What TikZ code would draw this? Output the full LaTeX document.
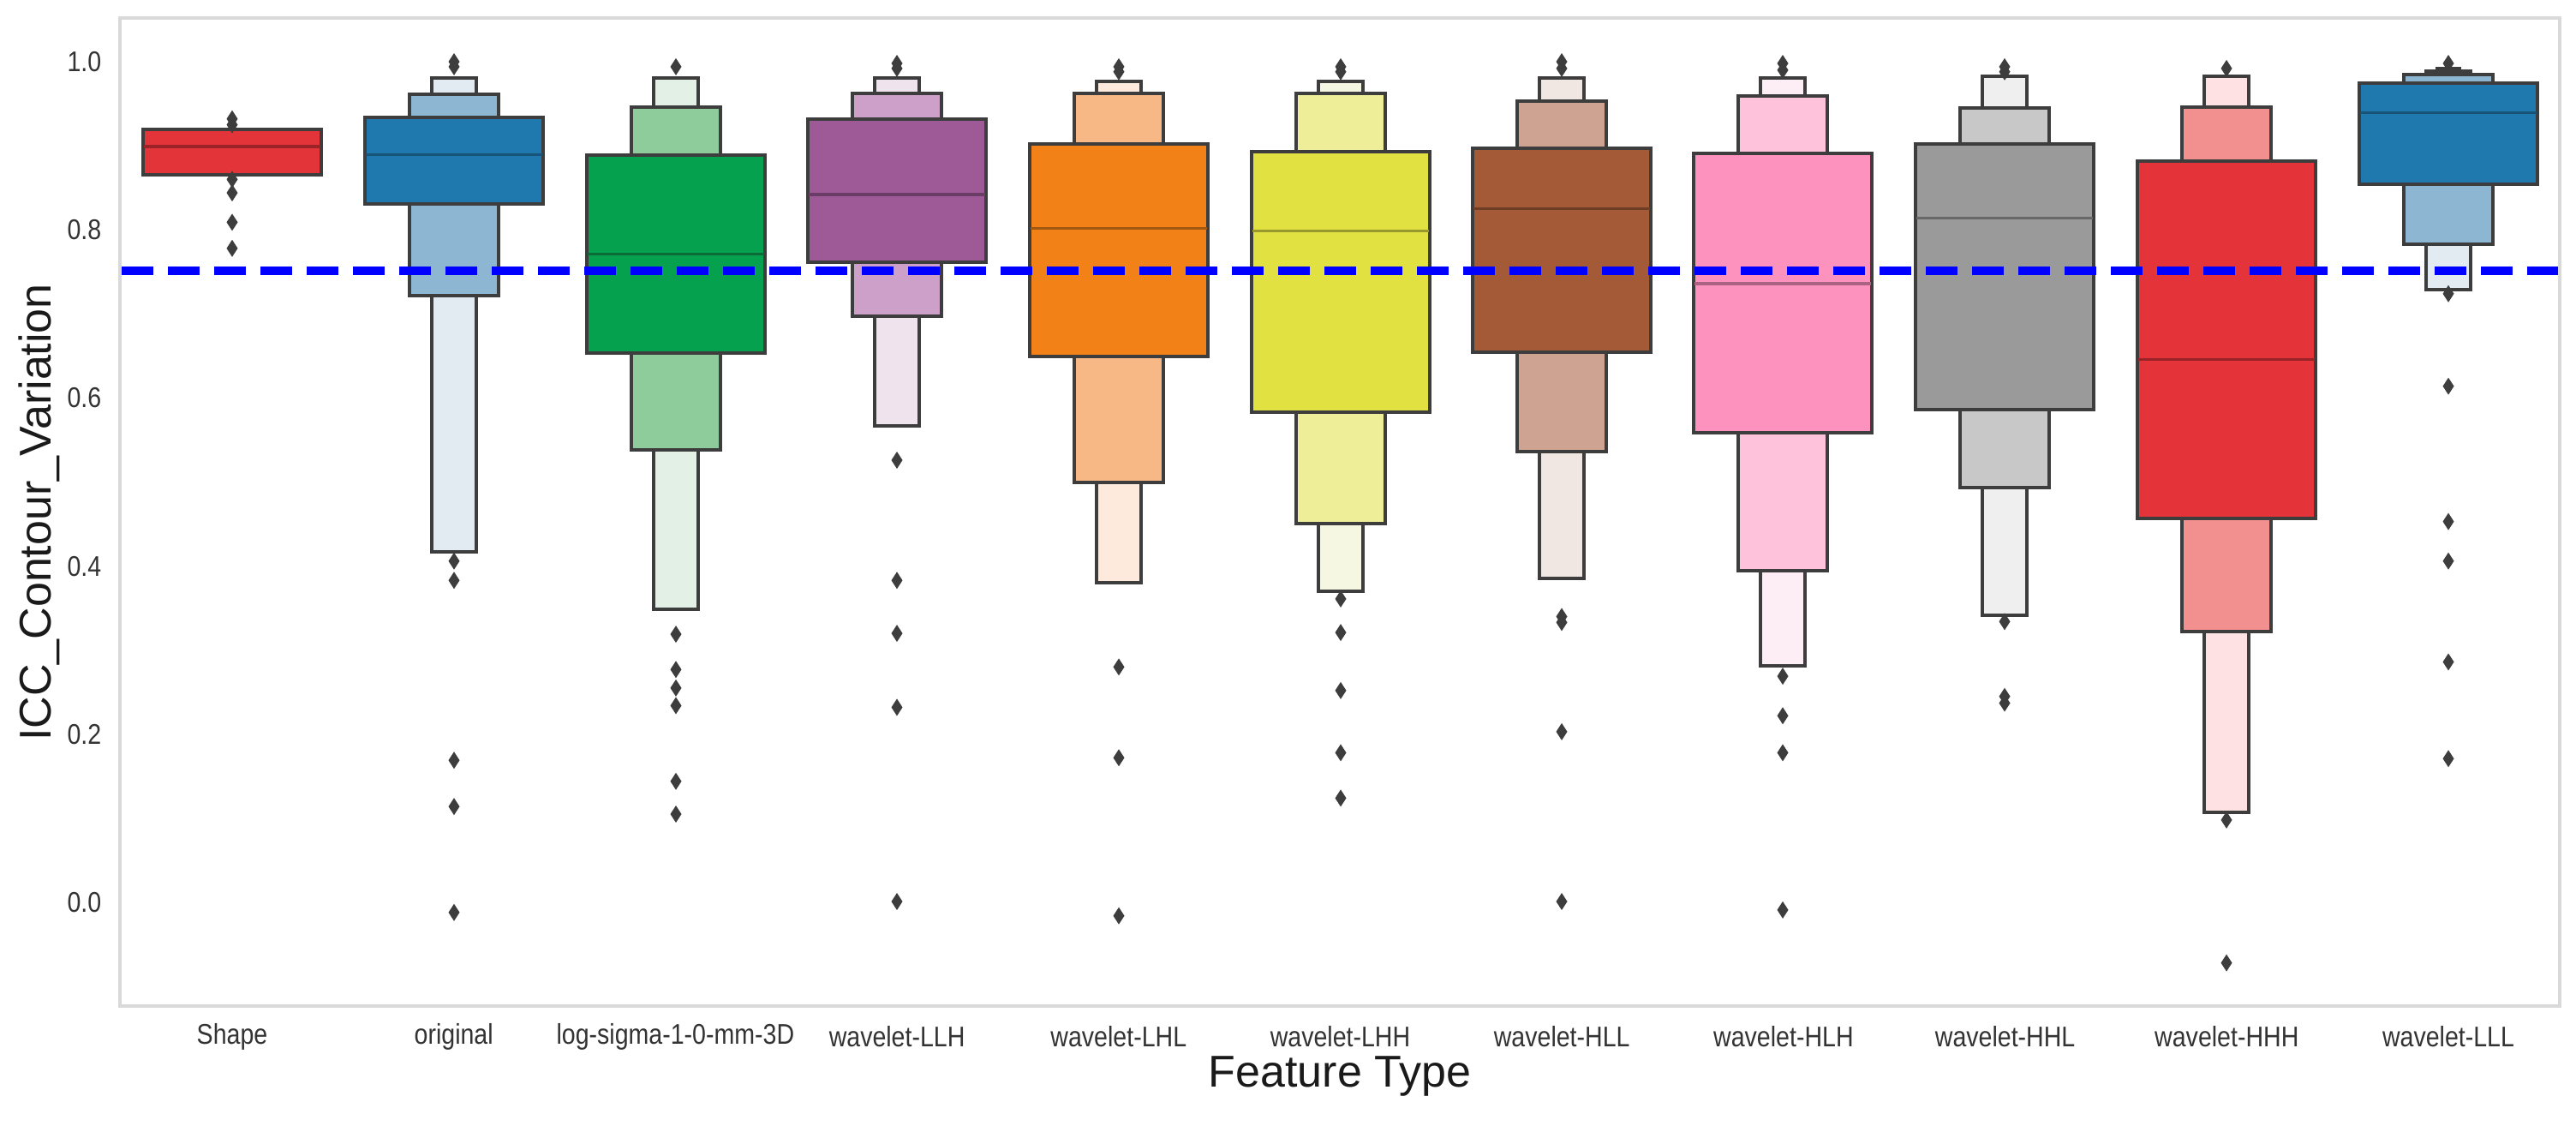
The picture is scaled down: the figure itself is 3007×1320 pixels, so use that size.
\documentclass[tikz,border=0pt]{standalone}
\usepackage{fontspec}
\setmainfont{Liberation Sans}
\begin{document}
\begin{tikzpicture}[x=0.25pt,y=-0.25pt,
  tick/.style={font=\fontsize{8.3}{10}\selectfont, text=tickc, inner sep=0pt},
  axlab/.style={font=\fontsize{13}{15}\selectfont, text=labc, inner sep=0pt}]
\definecolor{edgec}{HTML}{3D3D3D}
\definecolor{framec}{HTML}{D9D9D9}
\definecolor{thr}{HTML}{0000FF}
\definecolor{tickc}{HTML}{333333}
\definecolor{labc}{HTML}{1A1A1A}
\definecolor{rA}{HTML}{E3343A}\definecolor{rM}{HTML}{9A2328}
\definecolor{bA}{HTML}{2079AE}\definecolor{bB}{HTML}{8DB6D2}\definecolor{bC}{HTML}{E2EAF2}\definecolor{bD}{HTML}{F4F7FA}\definecolor{bM}{HTML}{175477}
\definecolor{gA}{HTML}{05A14E}\definecolor{gB}{HTML}{8FCC9C}\definecolor{gC}{HTML}{E3F0E5}\definecolor{gM}{HTML}{0A6B37}
\definecolor{pA}{HTML}{9E5A96}\definecolor{pB}{HTML}{CDA0C9}\definecolor{pC}{HTML}{EFE3EE}\definecolor{pM}{HTML}{6B3D66}
\definecolor{oA}{HTML}{F28117}\definecolor{oB}{HTML}{F8B886}\definecolor{oC}{HTML}{FDEADD}\definecolor{oM}{HTML}{A35812}
\definecolor{yA}{HTML}{E2E142}\definecolor{yB}{HTML}{EEEE98}\definecolor{yC}{HTML}{F6F7E2}\definecolor{yM}{HTML}{99982E}
\definecolor{nA}{HTML}{A45A36}\definecolor{nB}{HTML}{CFA391}\definecolor{nC}{HTML}{F0E6E2}\definecolor{nM}{HTML}{6E3D25}
\definecolor{kA}{HTML}{FE92BF}\definecolor{kB}{HTML}{FEC3DB}\definecolor{kC}{HTML}{FDEEF5}\definecolor{kM}{HTML}{AC6382}
\definecolor{sA}{HTML}{9A9A9A}\definecolor{sB}{HTML}{C8C8C8}\definecolor{sC}{HTML}{EFEFEF}\definecolor{sM}{HTML}{686868}
\definecolor{hA}{HTML}{E4343A}\definecolor{hB}{HTML}{F29090}\definecolor{hC}{HTML}{FDE1E3}\definecolor{hM}{HTML}{9A2328}
\newcommand\lev[5]{\filldraw[fill=#5, draw=edgec, line width=1pt] ({#1-#2},{1053-981*#3}) rectangle ({#1+#2},{1053-981*#4});}
\newcommand\med[3]{\draw[line width=0.8pt, draw=#3] ({#1-103},{1053-981*#2}) -- ({#1+103},{1053-981*#2});}
\newcommand\od[2]{\fill[fill=edgec] ({#1},{1053-981*#2}) +(0,-10) -- +(6.5,0) -- +(0,10) -- +(-6.5,0) -- cycle;}
\useasboundingbox (0,0) rectangle (3007,1320);
\fill[fill=white] (0,0) rectangle (3007,1320);
\draw[draw=framec, line width=0.8pt] (140,21) rectangle (2988,1174);
\foreach \vv/\tt/\k in {1.0/1.0/a,0.8/0.8/b,0.6/0.6/c,0.4/0.4/d,0.2/0.2/e,0.0/0.0/f}{
  \node[tick, anchor=east, xscale=0.86] (yt\k) at (119,{1053-981*\vv}) {\tt};}
% Shape
\lev{271}{104}{0.919}{0.865}{rA}\med{271}{0.899}{rM}
\foreach \ov in {0.932,0.925,0.86,0.844,0.809,0.778}{\od{271}{\ov}}
% original
\lev{530}{26}{0.981}{0.417}{bC}\lev{530}{52}{0.961}{0.722}{bB}\lev{530}{104}{0.934}{0.831}{bA}\med{530}{0.889}{bM}
\foreach \ov in {0.994,1.0,0.406,0.383,0.169,0.114,-0.012}{\od{530}{\ov}}
% log-sigma
\lev{789}{26}{0.981}{0.349}{gC}\lev{789}{52}{0.946}{0.538}{gB}\lev{789}{104}{0.889}{0.653}{gA}\med{789}{0.771}{gM}
\foreach \ov in {0.994,0.319,0.277,0.255,0.234,0.144,0.105}{\od{789}{\ov}}
% LLH
\lev{1047}{26}{0.981}{0.567}{pC}\lev{1047}{52}{0.962}{0.697}{pB}\lev{1047}{104}{0.932}{0.762}{pA}\med{1047}{0.842}{pM}
\foreach \ov in {0.998,0.992,0.526,0.383,0.320,0.232,0.001}{\od{1047}{\ov}}
% LHL
\lev{1306}{26}{0.977}{0.380}{oC}\lev{1306}{52}{0.962}{0.500}{oB}\lev{1306}{104}{0.902}{0.649}{oA}\med{1306}{0.802}{oM}
\foreach \ov in {0.994,0.988,0.280,0.172,-0.016}{\od{1306}{\ov}}
% LHH
\lev{1565}{26}{0.977}{0.370}{yC}\lev{1565}{52}{0.962}{0.451}{yB}\lev{1565}{104}{0.893}{0.583}{yA}\med{1565}{0.799}{yM}
\foreach \ov in {0.994,0.988,0.361,0.321,0.252,0.178,0.124}{\od{1565}{\ov}}
% HLL
\lev{1823}{26}{0.981}{0.385}{nC}\lev{1823}{52}{0.953}{0.536}{nB}\lev{1823}{104}{0.897}{0.654}{nA}\med{1823}{0.825}{nM}
\foreach \ov in {1.0,0.992,0.340,0.333,0.203,0.001}{\od{1823}{\ov}}
% HLH
\lev{2081}{26}{0.981}{0.281}{kC}\lev{2081}{52}{0.959}{0.395}{kB}\lev{2081}{104}{0.891}{0.559}{kA}\med{2081}{0.736}{kM}
\foreach \ov in {0.998,0.990,0.269,0.222,0.178,-0.009}{\od{2081}{\ov}}
% HHL
\lev{2340}{26}{0.983}{0.341}{sC}\lev{2340}{52}{0.945}{0.493}{sB}\lev{2340}{104}{0.902}{0.586}{sA}\med{2340}{0.814}{sM}
\foreach \ov in {0.994,0.988,0.334,0.245,0.237}{\od{2340}{\ov}}
% HHH
\lev{2599}{26}{0.983}{0.107}{hC}\lev{2599}{52}{0.946}{0.322}{hB}\lev{2599}{104}{0.882}{0.457}{hA}\med{2599}{0.646}{hM}
\foreach \ov in {0.992,0.098,-0.072}{\od{2599}{\ov}}
% LLL
\lev{2858}{13}{0.992}{0.975}{bD}\lev{2858}{26}{0.989}{0.729}{bC}\lev{2858}{52}{0.985}{0.783}{bB}\lev{2858}{104}{0.975}{0.854}{bA}\med{2858}{0.939}{bM}
\foreach \ov in {0.998,0.724,0.614,0.453,0.406,0.286,0.171}{\od{2858}{\ov}}
% threshold
\draw[draw=thr, line width=2.6pt, dash pattern=on 9.3pt off 4.2pt] (142,316.25) -- (2986,316.25);
\foreach \i/\tt in {0/Shape,1/original,2/log-sigma-1-0-mm-3D,3/wavelet-LLH,4/wavelet-LHL,5/wavelet-LHH,6/wavelet-HLL,7/wavelet-HLH,8/wavelet-HHL,9/wavelet-HHH,10/wavelet-LLL}{
  \node[tick, xscale=0.86] (xt\i) at ({271+258.7*\i},1210) {\tt};}
\node[axlab] (xl) at (1564,1256) {Feature Type};
\node[axlab, rotate=90] (yl) at (46,598) {ICC\_Contour\_Variation};
\end{tikzpicture}
\end{document}
